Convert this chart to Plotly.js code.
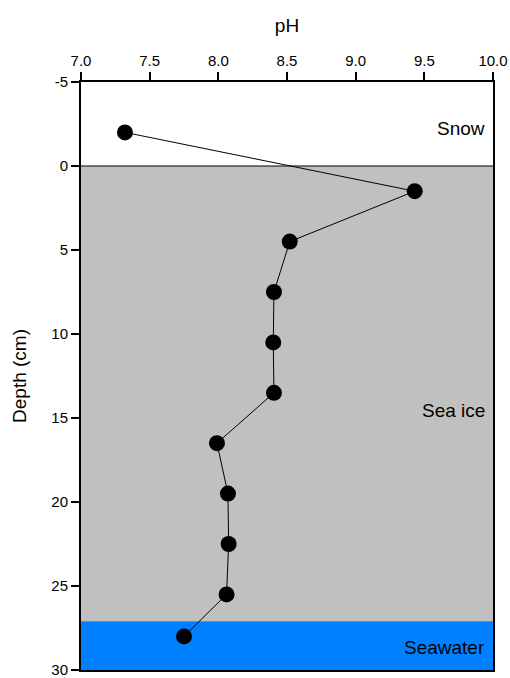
<!DOCTYPE html>
<html>
<head>
<meta charset="utf-8">
<script src="https://cdn.plot.ly/plotly-3.0.1.min.js"></script>
<style>html,body{margin:0;padding:0;background:#fff;}#chart{width:510px;height:678px;}</style>
</head>
<body>
<div id="chart"></div>
<script>
const pH = [7.32, 9.43, 8.52, 8.405, 8.40, 8.405, 7.99, 8.07, 8.075, 8.06, 7.75];
const depth = [-2, 1.5, 4.5, 7.5, 10.5, 13.5, 16.5, 19.5, 22.5, 25.5, 28];
const xTicks = [7.0, 7.5, 8.0, 8.5, 9.0, 9.5, 10.0];
const xTickText = ['7.0', '7.5', '8.0', '8.5', '9.0', '9.5', '10.0'];
const yTicks = [-5, 0, 5, 10, 15, 20, 25, 30];
const yTickText = ['-5', '0', '5', '10', '15', '20', '25', '30'];
const layers = ['Snow', 'Sea ice', 'Seawater'];
const layerTop = [-5, 0, 27.1];
const layerBottom = [0, 27.1, 30];
const layerLabelDepth = [-2.25, 14.55, 28.65];

const font = 'Liberation Sans, Arial, sans-serif';

const trace = {
  x: pH, y: depth, type: 'scatter', mode: 'lines+markers',
  line: {color: '#000', width: 1},
  marker: {color: '#000', size: 16},
  hoverinfo: 'none', showlegend: false, cliponaxis: false
};

const fills = [null, '#c0c0c0', '#0080ff'];
const shapes = [];
for (let i = 0; i < layers.length; i++) {
  if (fills[i]) {
    shapes.push({type: 'rect', xref: 'paper', yref: 'y', x0: 0, x1: 1,
      y0: layerTop[i], y1: layerBottom[i], fillcolor: fills[i],
      line: {width: 0}, layer: 'below'});
  }
}
shapes.push({type: 'line', xref: 'paper', yref: 'y', x0: 0, x1: 1,
  y0: layerBottom[0], y1: layerBottom[0], line: {color: '#000', width: 1}, layer: 'above'});

const annotations = layers.map((t, i) => ({
  text: t, xref: 'paper', yref: 'y', x: 1, y: layerLabelDepth[i],
  xanchor: 'right', yanchor: 'middle', xshift: -6, showarrow: false,
  font: {family: font, size: 19, color: '#000'}
}));

const layout = {
  width: 510, height: 678,
  margin: {l: 81, r: 17, t: 82, b: 8},
  paper_bgcolor: '#fff', plot_bgcolor: '#fff',
  font: {family: font, size: 15, color: '#000'},
  xaxis: {
    side: 'top', range: [7, 10], tickvals: xTicks, ticktext: xTickText,
    ticks: 'outside', ticklen: 8, tickwidth: 2, tickcolor: '#000',
    showline: true, linewidth: 2, linecolor: '#000', mirror: true,
    showgrid: false, zeroline: false, ticklabeloverflow: 'allow',
    title: {text: 'pH', font: {family: font, size: 19}, standoff: 14},
    tickfont: {family: font, size: 15}
  },
  yaxis: {
    range: [30, -5], tickvals: yTicks, ticktext: yTickText,
    ticks: 'outside', ticklen: 8, tickwidth: 2, tickcolor: '#000',
    showline: true, linewidth: 2, linecolor: '#000', mirror: true,
    showgrid: false, zeroline: false, ticklabeloverflow: 'allow',
    title: {text: 'Depth (cm)', font: {family: font, size: 19}, standoff: 20},
    tickfont: {family: font, size: 15}
  },
  shapes: shapes,
  annotations: annotations
};

Plotly.newPlot('chart', [trace], layout, {displayModeBar: false, staticPlot: true});
</script>
</body>
</html>
